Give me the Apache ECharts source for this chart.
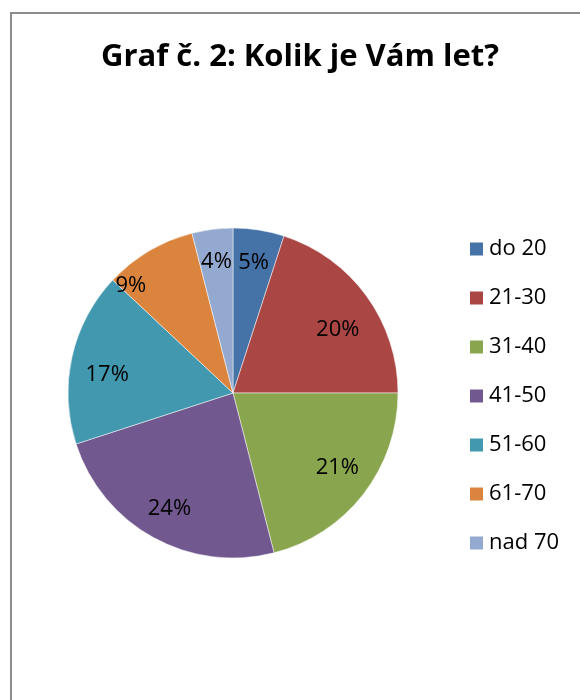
<!DOCTYPE html>
<html>
<head>
<meta charset="utf-8">
<script src="https://cdn.jsdelivr.net/npm/echarts@6/dist/echarts.min.js"></script>
<style>
	html, body { margin: 0; padding: 0; background: #fff; }
	#chart { width: 580px; height: 700px; }
</style>
</head>
<body>
<div id="chart"></div>
<script type="text/javascript">
// data
var categories = ['do 20', '21-30', '31-40', '41-50', '51-60', '61-70', 'nad 70'];
var percents = [5, 20, 21, 24, 17, 9, 4];
var colors = ['#4572a7', '#aa4643', '#89a54e', '#71588f', '#4198af', '#db843d', '#93a9cf'];

// small label nudges, like Excel's "best fit" placement
var labelNudge = { '21-30': [-2, 14], '31-40': [0, -6], '51-60': [3, 11], '61-70': [-35, 6] };

var pieData = [];
var labelData = [];
for (var i = 0; i < categories.length; i++) {
	pieData.push({ name: categories[i], value: percents[i] });
	var item = { name: categories[i], value: percents[i] };
	if (labelNudge[categories[i]]) {
		item.label = { offset: labelNudge[categories[i]] };
	}
	labelData.push(item);
}

var myChart = echarts.init(document.getElementById('chart'));
var options = {
	color: colors,
	backgroundColor: '#fff',
	animation: false,
	title: {
		text: 'Graf č. 2: Kolik je Vám let?',
		left: 300,
		textAlign: 'center',
		top: 42,
		padding: 0,
		textStyle: { fontFamily: 'Open Sans', fontWeight: 'bold', fontSize: 31, color: '#000' }
	},
	legend: {
		orient: 'vertical',
		left: 468,
		top: 238,
		padding: 0,
		icon: 'rect',
		itemWidth: 15,
		itemHeight: 15,
		itemGap: 27,
		textStyle: { fontFamily: 'Open Sans', fontSize: 22, color: '#000' },
		data: categories
	},
	graphic: [{
		type: 'rect',
		shape: { x: 11, y: 13, width: 620, height: 720 },
		style: { fill: 'none', stroke: '#8c8c8c', lineWidth: 2 },
		silent: true
	}],
	series: [
		{
			// main pie
			type: 'pie',
			center: [233, 393],
			radius: [0, 165],
			startAngle: 90,
			clockwise: true,
			label: { show: false },
			labelLine: { show: false },
			itemStyle: { borderColor: '#fff', borderWidth: 0.5 },
			data: pieData
		},
		{
			// transparent ring only used to place the percent labels
			type: 'pie',
			center: [233, 393],
			radius: [93, 165],
			startAngle: 90,
			clockwise: true,
			silent: true,
			itemStyle: { color: 'rgba(0,0,0,0)' },
			label: {
				show: true,
				position: 'inside',
				formatter: '{c}%',
				fontFamily: 'Open Sans',
				fontSize: 22,
				color: '#000'
			},
			labelLine: { show: false },
			data: labelData
		}
	]
};
myChart.setOption(options);
</script>
</body>
</html>
